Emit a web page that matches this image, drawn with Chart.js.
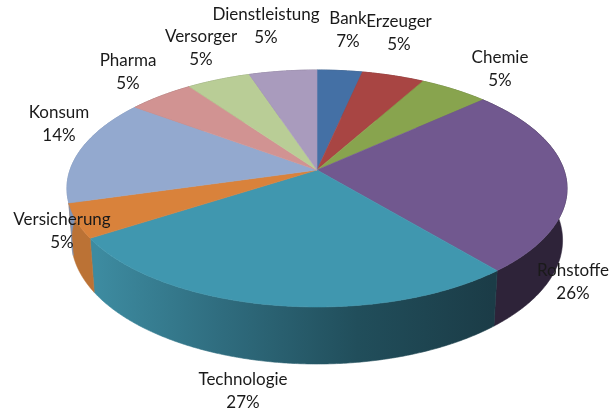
<!DOCTYPE html>
<html>
<head>
<meta charset="utf-8">
<style>
    html, body { margin: 0; padding: 0; background: #fff; }
    canvas { display: block; }
</style>
<script src="https://cdn.jsdelivr.net/npm/chart.js@4/dist/chart.umd.min.js"></script>
</head>
<body>
<canvas id="pie" width="610" height="414"></canvas>
<script>
const categories = ['Bank', 'Erzeuger', 'Chemie', 'Rohstoffe', 'Technologie', 'Versicherung', 'Konsum', 'Pharma', 'Versorger', 'Dienstleistung'];
// slice sizes as they look in the picture, the printed labels do not quite agree
const sliceValues = [3.4, 4.7, 5.2, 25.6, 27, 4.7, 14.5, 5, 4.8, 5.1];
const printedShares = ['7%', '5%', '5%', '26%', '27%', '5%', '14%', '5%', '5%', '5%'];

const topColors = ['#4470a5', '#a84543', '#88a44e', '#71588f', '#4097af', '#d9823b', '#93a9cf', '#d19392', '#b9cd96', '#a99bbd'];
const sideColors = ['#2d4a6e', '#702e2d', '#5a6d34', '#2e2339', '#2d6778', '#bb7235', '#7f93b5', '#8b6261', '#7b8964', '#71677e'];
const labelCenters = [[348, 19], [399, 22], [500, 58], [573, 271], [243, 380], [62, 220], [59, 113], [128, 61], [201, 37], [266, 15]];
const lineGap = 23;

// tilted disc: the apex sits above the middle of the ellipse
const apexX = 317, apexY = 170;
const radiusX = 247, radiusY = 115.6, tilt = 0.156;

function topPoint(angle) {
    const t = angle + Math.PI / 2;
    const u = Math.sin(t), v = -Math.cos(t);
    const w = 1 - tilt * v;
    return [apexX + radiusX * u / w, apexY + radiusY * v / w];
}

function bottomPoint(angle) {
    const p = topPoint(angle);
    return [apexX + (p[0] - apexX) * 0.982, p[1] + 51 + 0.044 * (p[1] - apexY)];
}

function arcPoints(arc, project) {
    const points = [];
    const steps = Math.max(2, Math.ceil((arc.endAngle - arc.startAngle) / 0.008));
    for (let i = 0; i <= steps; i++) {
        points.push(project(arc.startAngle + (arc.endAngle - arc.startAngle) * i / steps));
    }
    return points;
}

function fillPolygon(ctx, points, fill) {
    ctx.beginPath();
    points.forEach((p, i) => (i ? ctx.lineTo(p[0], p[1]) : ctx.moveTo(p[0], p[1])));
    ctx.closePath();
    ctx.fillStyle = fill;
    ctx.strokeStyle = fill;
    ctx.lineWidth = 0.6;
    ctx.fill();
    ctx.stroke();
}

function technologieGradient(ctx) {
    const g = ctx.createLinearGradient(97, 0, 492, 0);
    g.addColorStop(0, '#3d8ba0');
    g.addColorStop(0.32, '#2f6c7e');
    g.addColorStop(0.66, '#214e5b');
    g.addColorStop(1, '#1b3c47');
    return g;
}

const tiltedPie = {
    id: 'tiltedPie',
    beforeDatasetsDraw(chart) {
        const ctx = chart.ctx;
        const arcs = chart.getDatasetMeta(0).data;
        ctx.save();
        arcs.forEach((arc, i) => {
            const outer = arcPoints(arc, topPoint);
            const lower = arcPoints(arc, bottomPoint).reverse();
            const fill = categories[i] === 'Technologie' ? technologieGradient(ctx) : sideColors[i];
            fillPolygon(ctx, outer.concat(lower), fill);
        });
        arcs.forEach((arc, i) => {
            fillPolygon(ctx, [[apexX, apexY]].concat(arcPoints(arc, topPoint)), topColors[i]);
        });
        ctx.restore();
        return false;
    },
    afterDraw(chart) {
        const ctx = chart.ctx;
        ctx.save();
        ctx.font = '17px Lato, "Open Sans", sans-serif';
        ctx.fillStyle = '#1a1a1a';
        ctx.textAlign = 'center';
        ctx.textBaseline = 'middle';
        categories.forEach((name, i) => {
            const c = labelCenters[i];
            ctx.fillText(name, c[0], c[1]);
            ctx.fillText(printedShares[i], c[0], c[1] + lineGap);
        });
        ctx.restore();
    }
};

new Chart(document.getElementById('pie').getContext('2d'), {
    type: 'pie',
    data: {
        labels: categories,
        datasets: [{ data: sliceValues, backgroundColor: topColors, borderWidth: 0 }]
    },
    options: {
        responsive: false,
        animation: false,
        plugins: {
            legend: { display: false },
            tooltip: { enabled: false }
        }
    },
    plugins: [tiltedPie]
});
</script>
</body>
</html>
